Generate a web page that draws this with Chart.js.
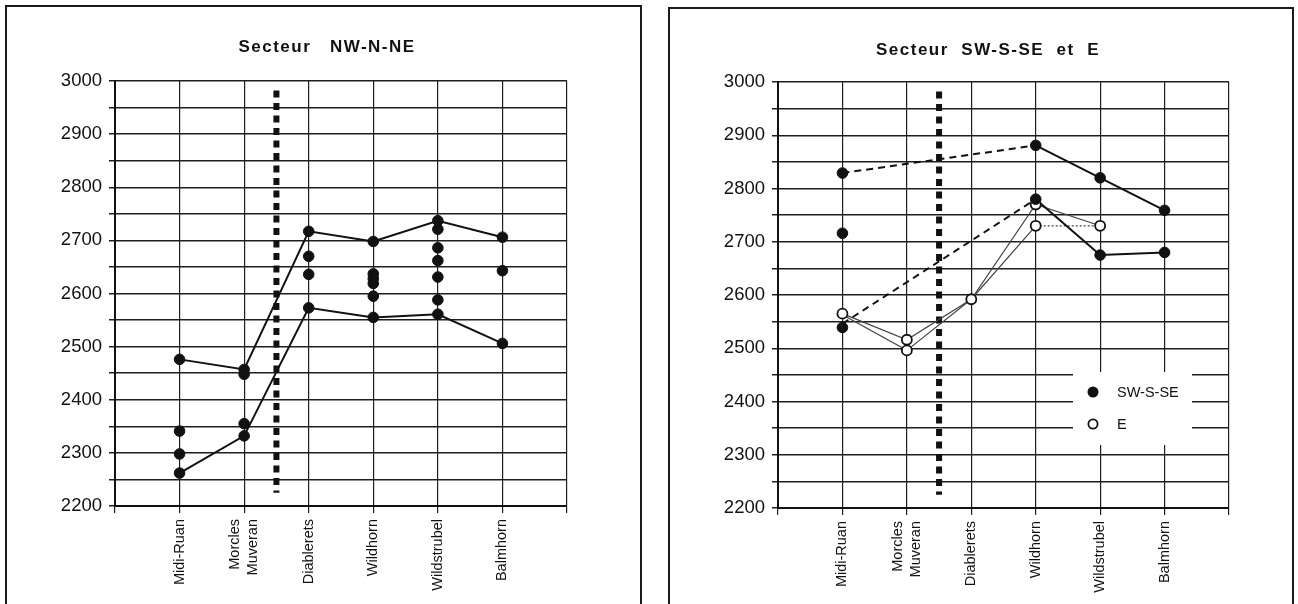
<!DOCTYPE html>
<html>
<head>
<meta charset="utf-8">
<script src="https://cdn.jsdelivr.net/npm/chart.js@4.4.1/dist/chart.umd.min.js"></script>
<style>
    body { margin: 0; background: #fff; width: 1298px; height: 604px; overflow: hidden; position: relative; }
    .frame { position: absolute; border: 2px solid #1a1a1a; height: 700px; box-sizing: border-box; }
    #frameLeft { left: 5px; top: 5px; width: 637px; }
    #frameRight { left: 668px; top: 7px; width: 626px; }
    canvas { position: absolute; top: 0; }
    #left { left: 0; }
    #right { left: 650px; }
</style>
</head>
<body>
<div class="frame" id="frameLeft"></div>
<div class="frame" id="frameRight"></div>
<canvas id="left" width="650" height="604"></canvas>
<canvas id="right" width="648" height="604"></canvas>
<script>
const categories = ['Midi-Ruan', ['Morcles', 'Muveran'], 'Diablerets', 'Wildhorn', 'Wildstrubel', 'Balmhorn'];
const yLabels = [2200, 2300, 2400, 2500, 2600, 2700, 2800, 2900, 3000];

// secteur NW-N-NE
const nwUpper = [2476, 2457, 2717, 2698, 2737, 2706];
const nwLower = [2262, 2332, 2573, 2555, 2561, 2506];
const nwExtra = [[2341, 2298], [2448, 2355], [2670, 2636], [2637, 2628, 2619, 2595], [2721, 2686, 2662, 2631, 2588], [2643]];

// secteur SW-S-SE et E
const swUpper = [2829, null, null, 2881, 2820, 2759];
const swLower = [2546, null, null, 2780, 2675, 2680];
const swDots = [[2829, 2716, 2539], [], [], [2881, 2780], [2820, 2675], [2759, 2680]];
const eUpper = [2565, 2516, 2592, 2770, 2730, null];
const eLower = [2563, 2496, 2592, 2730, 2730, null];
const eDots = [[2565], [2516, 2496], [2592], [2770, 2730], [2730], []];

// limite en pointillé entre Morcles et Diablerets
const dividerX = 2.5;
const dividerY = [2982, 2225];

const FONT = '"Liberation Sans", Arial, sans-serif';
Chart.defaults.font.family = FONT;
Chart.defaults.color = '#111';

function linePoints(values) {
    var pts = [];
    values.forEach(function (v, i) {
        if (v !== null) pts.push({x: i + 1, y: v});
    });
    return pts;
}

function dotPoints(groups) {
    var pts = [];
    groups.forEach(function (g, i) {
        g.forEach(function (v) { pts.push({x: i + 1, y: v}); });
    });
    return pts;
}

function dividerSet() {
    return {
        type: 'line', order: 9,
        data: dividerY.map(function (v) { return {x: dividerX, y: v}; }),
        borderColor: '#111', borderWidth: 6, borderDash: [7, 5.5], borderCapStyle: 'butt',
        pointRadius: 0
    };
}

function lineSet(values, opts) {
    return Object.assign({
        type: 'line', order: 5,
        data: linePoints(values),
        borderColor: '#111', borderWidth: 2,
        pointRadius: 0, spanGaps: true, tension: 0
    }, opts || {});
}

function dotSet(groups, filled) {
    return {
        type: 'scatter', order: 1,
        data: dotPoints(groups),
        pointRadius: filled ? 5.3 : 5,
        pointBorderWidth: filled ? 1 : 1.8,
        pointBackgroundColor: filled ? '#111' : '#fff',
        pointBorderColor: '#111'
    };
}

var panelDecor = {
    id: 'panelDecor',
    beforeDraw: function (chart) {
        // centre the two-line label on its tick
        var sc = chart.scales.x;
        sc.getLabelItems(chart.chartArea).forEach(function (it) {
            if (Array.isArray(it.label) && !it.centred) {
                it.options.translation[0] -= (it.label.length - 1) * it.font.lineHeight / 2;
                it.centred = true;
            }
        });
    },
    beforeDatasetsDraw: function (chart, args, opts) {
        if (!opts.legend) return;
        var ctx = chart.ctx, a = chart.chartArea;
        var bx = a.left + 295, by = a.top + 290;
        ctx.save();
        ctx.fillStyle = '#fff';
        ctx.fillRect(bx, by, 119, 73);
        opts.legend.forEach(function (item, i) {
            var cy = by + 20 + i * 32;
            ctx.beginPath();
            ctx.arc(bx + 20, cy, item.filled ? 5.5 : 4.6, 0, Math.PI * 2);
            ctx.fillStyle = item.filled ? '#111' : '#fff';
            ctx.fill();
            if (!item.filled) {
                ctx.lineWidth = 1.8;
                ctx.strokeStyle = '#111';
                ctx.stroke();
            }
            ctx.fillStyle = '#111';
            ctx.font = '14.5px ' + FONT;
            ctx.textAlign = 'left';
            ctx.textBaseline = 'middle';
            ctx.fillText(item.label, bx + 44, cy + 1);
        });
        ctx.restore();
    },
    afterDraw: function (chart, args, opts) {
        var ctx = chart.ctx;
        ctx.save();
        ctx.font = 'bold 17px ' + FONT;
        ctx.letterSpacing = '1.5px';
        ctx.fillStyle = '#111';
        ctx.textAlign = 'center';
        ctx.textBaseline = 'middle';
        ctx.fillText(opts.title, opts.titleX, opts.titleY);
        ctx.restore();
    }
};

function makeChart(id, datasets, area, decor) {
    return new Chart(document.getElementById(id), {
        type: 'scatter',
        data: {datasets: datasets},
        plugins: [panelDecor],
        options: {
            responsive: false,
            animation: false,
            devicePixelRatio: 1,
            layout: {padding: {left: 0, top: area.top, right: area.right, bottom: 0}},
            plugins: {
                legend: {display: false},
                tooltip: {enabled: false},
                panelDecor: decor
            },
            scales: {
                x: {
                    type: 'linear', min: 0, max: categories.length + 1,
                    ticks: {
                        stepSize: 1, autoSkip: false, minRotation: 90, maxRotation: 90, padding: 6,
                        font: {size: 14.5}, color: '#111',
                        callback: function (v) { return categories[v - 1] || ''; }
                    },
                    grid: {color: '#1e1e1e', lineWidth: 1.2, tickLength: 7},
                    border: {color: '#111', width: 2},
                    afterFit: function (s) { s.height = area.xHeight; }
                },
                y: {
                    min: yLabels[0], max: yLabels[yLabels.length - 1],
                    ticks: {
                        stepSize: 50, autoSkip: false, padding: 7,
                        font: {size: 18.5}, color: '#111',
                        callback: function (v) { return yLabels.indexOf(v) >= 0 ? String(v) : ''; }
                    },
                    grid: {color: '#1e1e1e', lineWidth: 1.5, tickLength: 6},
                    border: {color: '#111', width: 2},
                    afterFit: function (s) { s.width = area.left; }
                }
            }
        }
    });
}

makeChart('left', [
    dividerSet(),
    lineSet(nwUpper),
    lineSet(nwLower),
    dotSet([[nwUpper[0]], [nwUpper[1]], [nwUpper[2]], [nwUpper[3]], [nwUpper[4]], [nwUpper[5]]], true),
    dotSet([[nwLower[0]], [nwLower[1]], [nwLower[2]], [nwLower[3]], [nwLower[4]], [nwLower[5]]], true),
    dotSet(nwExtra, true)
], {left: 115, top: 81, right: 83, xHeight: 98}, {
    title: 'Secteur   NW-N-NE', titleX: 327, titleY: 47
});

var dashFirst = {segment: {borderDash: function (ctx) { return ctx.p0DataIndex === 0 ? [7, 5] : undefined; }}};
var dottedLast = {segment: {borderDash: function (ctx) { return ctx.p0DataIndex === 3 ? [2, 2] : undefined; }}};

makeChart('right', [
    dividerSet(),
    lineSet(eUpper, {borderColor: '#444', borderWidth: 1.2, order: 6}),
    lineSet(eLower, Object.assign({borderColor: '#444', borderWidth: 1.2, order: 6}, dottedLast)),
    lineSet(swUpper, dashFirst),
    lineSet(swLower, dashFirst),
    dotSet(swDots, true),
    dotSet(eDots, false)
], {left: 128, top: 82, right: 69, xHeight: 96}, {
    title: 'Secteur  SW-S-SE  et  E', titleX: 338, titleY: 50,
    legend: [{label: 'SW-S-SE', filled: true}, {label: 'E', filled: false}]
});
</script>
</body>
</html>
